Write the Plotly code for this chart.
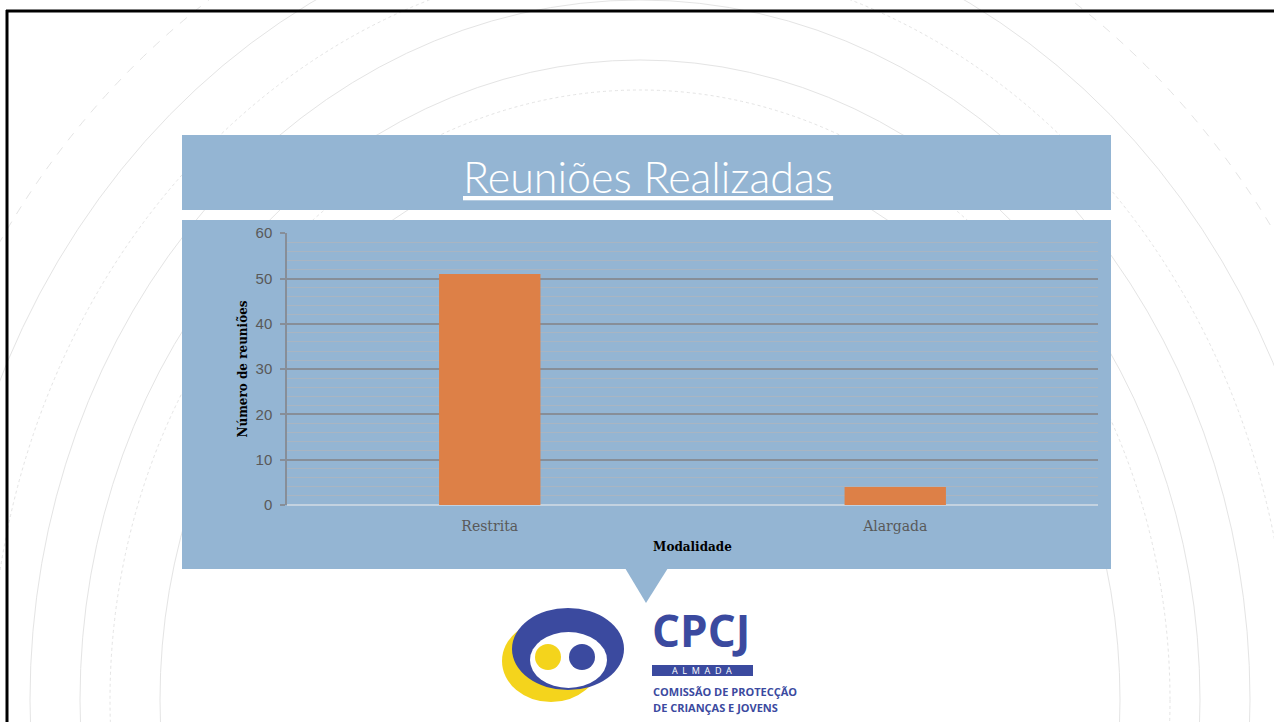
import plotly.graph_objects as go

# ---- data ----
categories = ["Restrita", "Alargada"]
reunioes = [51, 4]
y_tick_vals = [0, 10, 20, 30, 40, 50, 60]
y_tick_text = ["0", "10", "20", "30", "40", "50", "60"]

title_text = "Reuniões Realizadas"
y_title = "Número de reuniões"
x_title = "Modalidade"

# ---- geometry helpers (page pixels -> paper coords) ----
W, H = 1274, 722
PX0, PX1, PY0, PY1 = 287, 1098, 233, 505  # plot area in page pixels


def px(x):
    return (x - PX0) / (PX1 - PX0)


def py(y):
    return (PY1 - y) / (PY1 - PY0)


BOX = "#94b5d3"
BAR = "#dd8047"
MAJOR = "#878e98"
MINOR = "#a9b5c2"
LOGO_BLUE = "#3b4a9f"
LOGO_YEL = "#f4d41c"
SERIF = "DejaVu Serif, Liberation Serif, serif"
SANS = "Liberation Sans, Arial, sans-serif"
TITLEF = "Lato, Open Sans, sans-serif"
NARROW = "Open Sans, sans-serif"

fig = go.Figure(
    go.Bar(
        x=categories,
        y=reunioes,
        marker=dict(color=BAR, line=dict(width=0)),
        width=0.25,
        hoverinfo="x+y",
    )
)

shapes = []

# decorative background curves
curves = [
    (640, 700, 560, 640, "solid"),
    (640, 700, 610, 700, "solid"),
    (640, 700, 650, 740, "dot"),
    (640, 700, 700, 790, "solid"),
    (640, 700, 760, 850, "dash"),
    (640, 700, 480, 560, "solid"),
    (640, 700, 530, 610, "dot"),
]
for cx, cy, rx, ry, dash in curves:
    shapes.append(dict(
        type="circle", xref="paper", yref="paper", layer="below",
        x0=px(cx - rx), x1=px(cx + rx), y0=py(cy + ry), y1=py(cy - ry),
        line=dict(color="#e4e4e4", width=1, dash=dash), fillcolor="rgba(0,0,0,0)",
    ))

# title box and chart box
shapes.append(dict(type="rect", xref="paper", yref="paper", layer="below",
                   x0=px(182), x1=px(1111), y0=py(210), y1=py(135),
                   fillcolor=BOX, line=dict(width=0)))
shapes.append(dict(type="rect", xref="paper", yref="paper", layer="below",
                   x0=px(182), x1=px(1111), y0=py(569), y1=py(220),
                   fillcolor=BOX, line=dict(width=0)))
# pointer triangle
tri = "M {} {} L {} {} L {} {} Z".format(px(625), py(568), px(668), py(568), px(646), py(603))
shapes.append(dict(type="path", xref="paper", yref="paper", layer="below", path=tri,
                   fillcolor=BOX, line=dict(width=0)))


# logo shapes
def ell(x0, x1, y0, y1, color):
    return dict(type="circle", xref="paper", yref="paper", layer="above",
                x0=px(x0), x1=px(x1), y0=py(y1), y1=py(y0),
                fillcolor=color, line=dict(width=0))


shapes.append(ell(502, 600, 620, 702, LOGO_YEL))
shapes.append(ell(512, 624, 608, 690, LOGO_BLUE))
shapes.append(ell(530, 607, 632, 688, "white"))
shapes.append(ell(535, 561, 644, 670, LOGO_YEL))
shapes.append(ell(569, 595, 644, 670, LOGO_BLUE))
# ALMADA bar
shapes.append(dict(type="rect", xref="paper", yref="paper", layer="above",
                   x0=px(652), x1=px(753), y0=py(676), y1=py(665),
                   fillcolor=LOGO_BLUE, line=dict(width=0)))

# page border (top and left)
shapes.append(dict(type="line", xref="paper", yref="paper", layer="above",
                   x0=px(6), x1=px(1280), y0=py(11), y1=py(11),
                   line=dict(color="black", width=3)))
shapes.append(dict(type="line", xref="paper", yref="paper", layer="above",
                   x0=px(7), x1=px(7), y0=py(10), y1=py(730),
                   line=dict(color="black", width=3)))

annotations = [
    dict(text=title_text, xref="paper", yref="paper", x=px(648), y=py(176),
         xanchor="center", yanchor="middle", showarrow=False,
         font=dict(family=TITLEF, size=43, color="white", weight=300, lineposition="under")),
    dict(text="CPCJ", xref="paper", yref="paper", x=px(650), y=py(630),
         xanchor="left", yanchor="middle", showarrow=False,
         font=dict(family=NARROW, size=44, color=LOGO_BLUE, weight="bold")),
    dict(text="A  L  M  A  D  A", xref="paper", yref="paper", x=px(702), y=py(670.5),
         xanchor="center", yanchor="middle", showarrow=False,
         font=dict(family=NARROW, size=9, color="white")),
    dict(text="COMISSÃO DE PROTECÇÃO", xref="paper", yref="paper", x=px(651), y=py(691),
         xanchor="left", yanchor="middle", showarrow=False,
         font=dict(family=NARROW, size=11, color=LOGO_BLUE, weight="bold")),
    dict(text="DE CRIANÇAS E JOVENS", xref="paper", yref="paper", x=px(651), y=py(707),
         xanchor="left", yanchor="middle", showarrow=False,
         font=dict(family=NARROW, size=11, color=LOGO_BLUE, weight="bold")),
]

fig.update_layout(
    width=W, height=H,
    margin=dict(l=PX0, r=W - PX1, t=PY0, b=H - PY1, autoexpand=False),
    paper_bgcolor="white",
    plot_bgcolor="rgba(0,0,0,0)",
    showlegend=False,
    shapes=shapes,
    annotations=annotations,
    bargap=0.75,
)

fig.update_xaxes(
    type="category",
    range=[-0.5, 1.5],
    showgrid=False,
    ticks="outside",
    ticklen=8,
    tickcolor="rgba(0,0,0,0)",
    showline=False,
    zeroline=False,
    tickfont=dict(family=SERIF, size=14, color="#595959"),
    title=dict(text=x_title, standoff=9,
               font=dict(family=SERIF, size=12, color="black", weight="bold")),
    automargin=False,
    fixedrange=True,
)

fig.update_yaxes(
    range=[0, 60.05],
    tickvals=y_tick_vals,
    ticktext=y_tick_text,
    showgrid=True,
    gridcolor=MAJOR,
    gridwidth=1.5,
    minor=dict(dtick=2, showgrid=True, gridcolor=MINOR, gridwidth=1.2),
    zeroline=True,
    zerolinecolor="#c3d2e0",
    zerolinewidth=2,
    showline=True,
    linecolor=MAJOR,
    linewidth=1.5,
    ticks="outside",
    ticklen=5,
    tickcolor=MAJOR,
    tickwidth=1.5,
    ticklabelstandoff=5,
    tickfont=dict(family=SANS, size=15, color="#595959"),
    title=dict(text=y_title, standoff=5,
               font=dict(family=SERIF, size=12, color="black", weight="bold")),
    automargin=False,
    fixedrange=True,
)

fig.write_html("out.html", config={"displayModeBar": False},
               post_script="document.body.style.margin='0';")
